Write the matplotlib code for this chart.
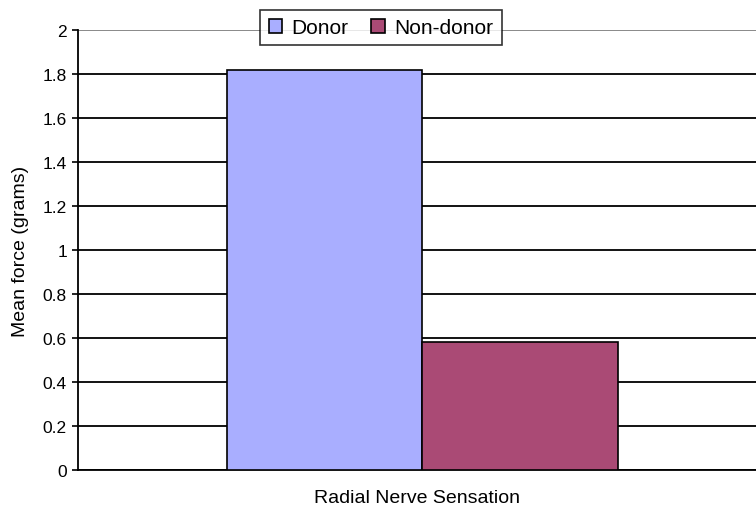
import matplotlib
matplotlib.use("Agg")
import matplotlib.pyplot as plt

categories = ["Radial Nerve Sensation"]
series = ["Donor", "Non-donor"]
values = [1.82, 0.58]
colors = ["#A9AEFF", "#AA4A75"]
yticks = [0, 0.2, 0.4, 0.6, 0.8, 1, 1.2, 1.4, 1.6, 1.8, 2]
ytick_labels = ["0", "0.2", "0.4", "0.6", "0.8", "1", "1.2", "1.4", "1.6", "1.8", "2"]

plt.rcParams['font.family'] = ['Liberation Sans', 'DejaVu Sans']

fig = plt.figure(figsize=(7.56, 5.06), dpi=100)
ax = fig.add_axes([78/756, 35/506, 678/756, 440/506])

w = 1.0
offsets = [-0.5, 0.5]
for s, v, c, o in zip(series, values, colors, offsets):
    ax.bar(o * w, v, width=w, color=c, edgecolor="black", linewidth=1.2, label=s, zorder=3)

ax.set_xlim(-1.758, 1.702)
ax.set_ylim(0, 2)
ax.set_yticks(yticks)
ax.set_yticklabels(ytick_labels, fontsize=12.5)
ax.set_xticks([])
ax.set_xlabel(categories[0], fontsize=14, labelpad=14)
ax.set_ylabel("Mean force (grams)", fontsize=14, labelpad=10)

for t in yticks[:-1]:
    ax.axhline(t, color="black", linewidth=1.3, zorder=1)
ax.axhline(2, color="#808080", linewidth=1.3, zorder=1)

for sp in ["top", "right"]:
    ax.spines[sp].set_visible(False)
ax.spines["left"].set_linewidth(1.3)
ax.spines["bottom"].set_linewidth(1.3)
ax.tick_params(axis="y", direction="out", length=4, width=1.2, pad=4)

leg = ax.legend(loc="center", bbox_to_anchor=(381/756, 1 - 28.5/506), bbox_transform=fig.transFigure,
                ncol=2, fontsize=15, frameon=True, fancybox=False, edgecolor="black",
                handlelength=0.65, handleheight=0.65, handletextpad=0.45, columnspacing=1.1,
                borderpad=0.4, borderaxespad=0)
leg.get_frame().set_linewidth(1.2)
leg.set_zorder(5)

fig.savefig("out.png", dpi=100)
